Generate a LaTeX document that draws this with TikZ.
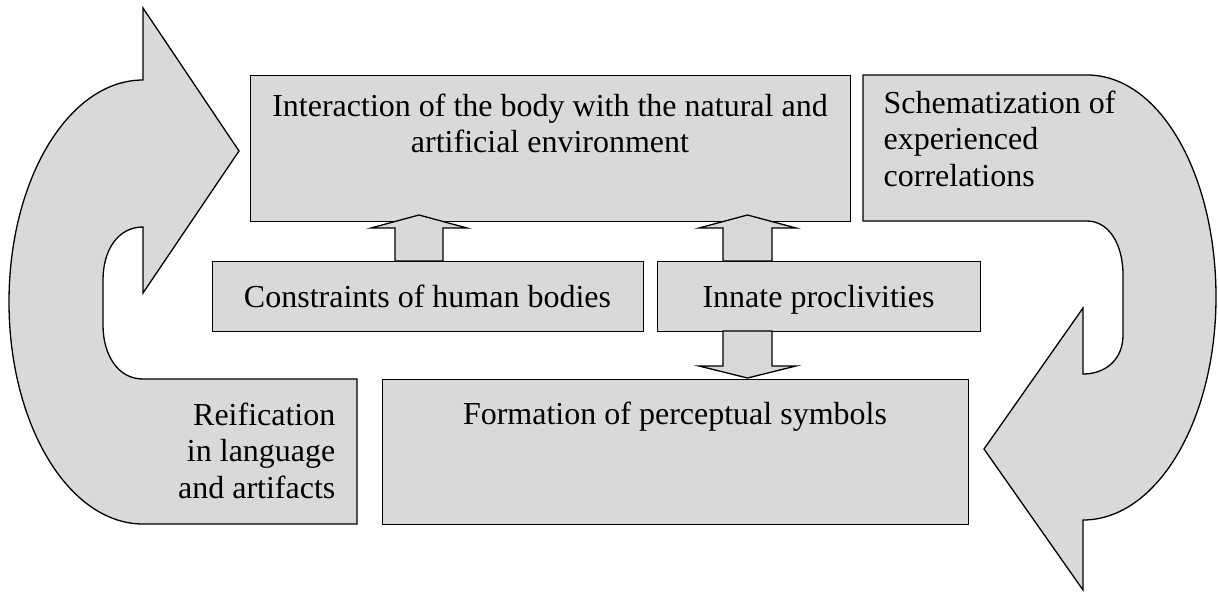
\documentclass[tikz,border=0pt]{standalone}
\usepackage{fontspec}
\setmainfont{Liberation Serif}
\definecolor{boxgray}{HTML}{D9D9D9}
\begin{document}
\begin{tikzpicture}[x=1pt,y=-1pt,line width=1.3pt,line join=miter]
\tikzset{
  grayfill/.style={draw=black,fill=boxgray},
  box/.style={grayfill,rectangle,inner sep=0pt,anchor=north west},
  lbl/.style={font=\fontsize{32}{36.5}\selectfont,inner sep=0pt}
}
\useasboundingbox (0,0) rectangle (1218,592);
% left curved arrow (reification)
\draw[grayfill] (143,80) -- (143,8) -- (239,151) -- (143,293) -- (143,227)
  .. controls (118,227) and (103,250) .. (103,280) -- (103,325)
  .. controls (103,355) and (118,379) .. (143,379) -- (357,379) -- (357,524) -- (143,524)
  .. controls (69,524) and (9,425) .. (9,302)
  .. controls (9,179) and (69,80) .. (143,80) -- cycle;
% right curved arrow (schematization)
\draw[grayfill] (863,75) -- (1087,75)
  .. controls (1160,75) and (1216,175) .. (1216,297)
  .. controls (1216,420) and (1157,520) .. (1083,520) -- (1083,590) -- (984,449) -- (1083,308) -- (1083,374)
  .. controls (1105,374) and (1123,360) .. (1123,335) -- (1123,275)
  .. controls (1123,243) and (1108,221) .. (1087,221) -- (863,221) -- cycle;
% boxes
\node[box,minimum width=600pt,minimum height=146pt] (inter) at (250,75) {};
\node[box,minimum width=431pt,minimum height=70pt] (constr) at (212,261) {};
\node[box,minimum width=323pt,minimum height=70pt] (innate) at (657,261) {};
\node[box,minimum width=586pt,minimum height=145pt] (form) at (382,379) {};
% block arrows
\draw[grayfill] (395,261) -- (395,228) -- (371,228) -- (419,215) -- (467,228) -- (443,228) -- (443,261) -- cycle;
\draw[grayfill] (723,261) -- (723,228) -- (699,228) -- (747.5,215) -- (796,228) -- (772,228) -- (772,261) -- cycle;
\draw[grayfill] (723,331) -- (723,366) -- (699,366) -- (747.5,378) -- (796,366) -- (772,366) -- (772,331) -- cycle;
% texts
\node[lbl,align=center,anchor=base] (intertxt) at (550,152.5) {Interaction of the body with the natural and\\artificial environment};
\node[lbl,anchor=base] (constrtxt) at (427.5,307) {Constraints of human bodies};
\node[lbl,anchor=base] (innatetxt) at (818.5,307) {Innate proclivities};
\node[lbl,anchor=base] (formtxt) at (675,424) {Formation of perceptual symbols};
\node[lbl,align=right,anchor=base east] (reiftxt) at (336,498) {Reification\\in language\\and artifacts};
\node[lbl,align=left,anchor=base west] (schemtxt) at (883,186) {Schematization of\\experienced\\correlations};
\end{tikzpicture}
\end{document}
